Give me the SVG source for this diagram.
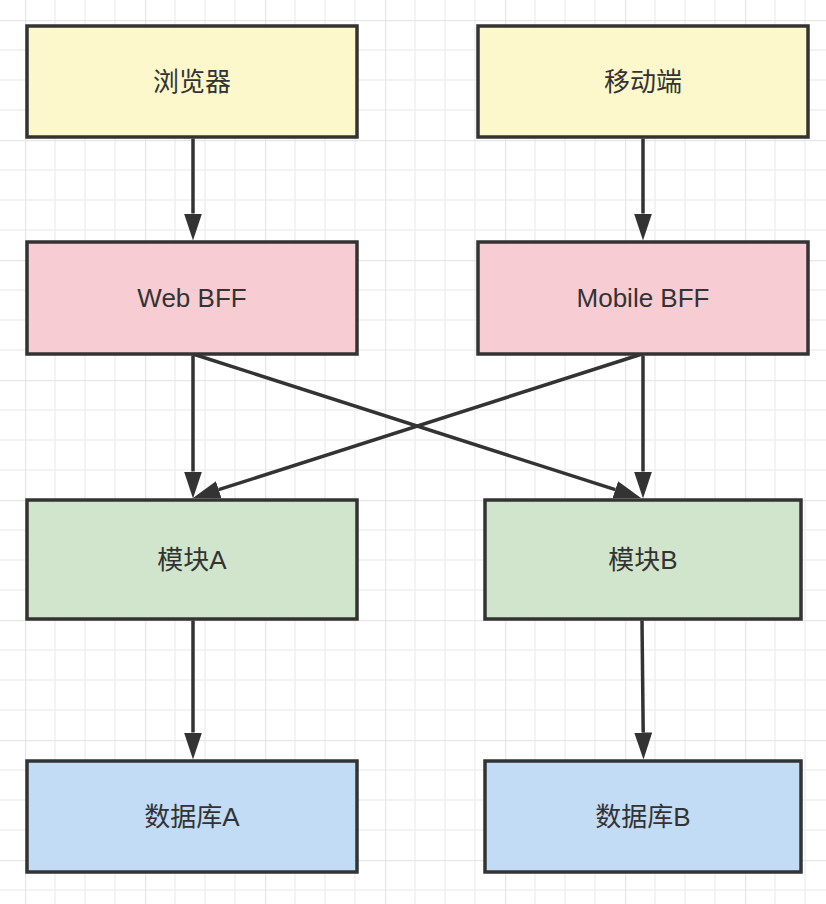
<svg xmlns="http://www.w3.org/2000/svg" width="826" height="904" viewBox="0 0 826 904">
<style>
.box{stroke:#333;stroke-width:3.5}
.yellow{fill:#fdf8cb}
.pink{fill:#f7cdd3}
.green{fill:#d0e5cc}
.blue{fill:#c3dcf5}
.label{font-family:"Liberation Sans","Noto Sans CJK SC",sans-serif;font-size:26px;fill:#333;text-anchor:middle}
.conn{stroke:#333;stroke-width:3.5;fill:none;marker-end:url(#arrow)}
</style>
<defs>
<pattern id="grid" x="25" y="20" width="120" height="120" patternUnits="userSpaceOnUse">
<path d="M30 0V120M60 0V120M90 0V120M0 30H120M0 60H120M0 90H120" stroke="#efefef" stroke-width="1.5" fill="none"/>
<path d="M0 0V120M0 0H120" stroke="#e6e6e6" stroke-width="2.5" fill="none"/>
</pattern>
<marker id="arrow" markerUnits="userSpaceOnUse" markerWidth="30" markerHeight="20" refX="0" refY="9" orient="auto" viewBox="0 0 30 20">
<path d="M0 0L27 9L0 18Z" fill="#333"/>
</marker>
</defs>
<rect width="826" height="904" fill="#fff"/>
<rect width="826" height="904" fill="url(#grid)"/>
<g id="connectors">
<line class="conn" x1="193" y1="138.5" x2="193" y2="213.5"/>
<line class="conn" x1="643" y1="138.5" x2="643" y2="213.5"/>
<line class="conn" x1="193" y1="355.5" x2="193" y2="471.5"/>
<line class="conn" x1="643" y1="355.5" x2="643" y2="471.5"/>
<line class="conn" x1="193" y1="354" x2="615.3" y2="489.7"/>
<line class="conn" x1="642" y1="354" x2="218.7" y2="489.7"/>
<line class="conn" x1="193" y1="620.5" x2="193" y2="732.5"/>
<line class="conn" x1="642" y1="620.5" x2="643.2" y2="732.5"/>
</g>
<g id="browser"><rect class="box yellow" x="27" y="26" width="330" height="111"/><text class="label" x="192" y="90.5">浏览器</text></g>
<g id="mobile"><rect class="box yellow" x="478" y="26" width="330" height="111"/><text class="label" x="643" y="90.5">移动端</text></g>
<g id="web-bff"><rect class="box pink" x="27" y="242" width="330" height="112"/><text class="label" x="192" y="307">Web BFF</text></g>
<g id="mobile-bff"><rect class="box pink" x="478" y="242" width="330" height="112"/><text class="label" x="643" y="307">Mobile BFF</text></g>
<g id="module-a"><rect class="box green" x="27" y="500" width="330" height="119"/><text class="label" x="192" y="568.5">模块A</text></g>
<g id="module-b"><rect class="box green" x="485" y="500" width="316" height="119"/><text class="label" x="643" y="568.5">模块B</text></g>
<g id="db-a"><rect class="box blue" x="27" y="761" width="330" height="111"/><text class="label" x="192" y="825.5">数据库A</text></g>
<g id="db-b"><rect class="box blue" x="485" y="761" width="316" height="111"/><text class="label" x="643" y="825.5">数据库B</text></g>
</svg>
